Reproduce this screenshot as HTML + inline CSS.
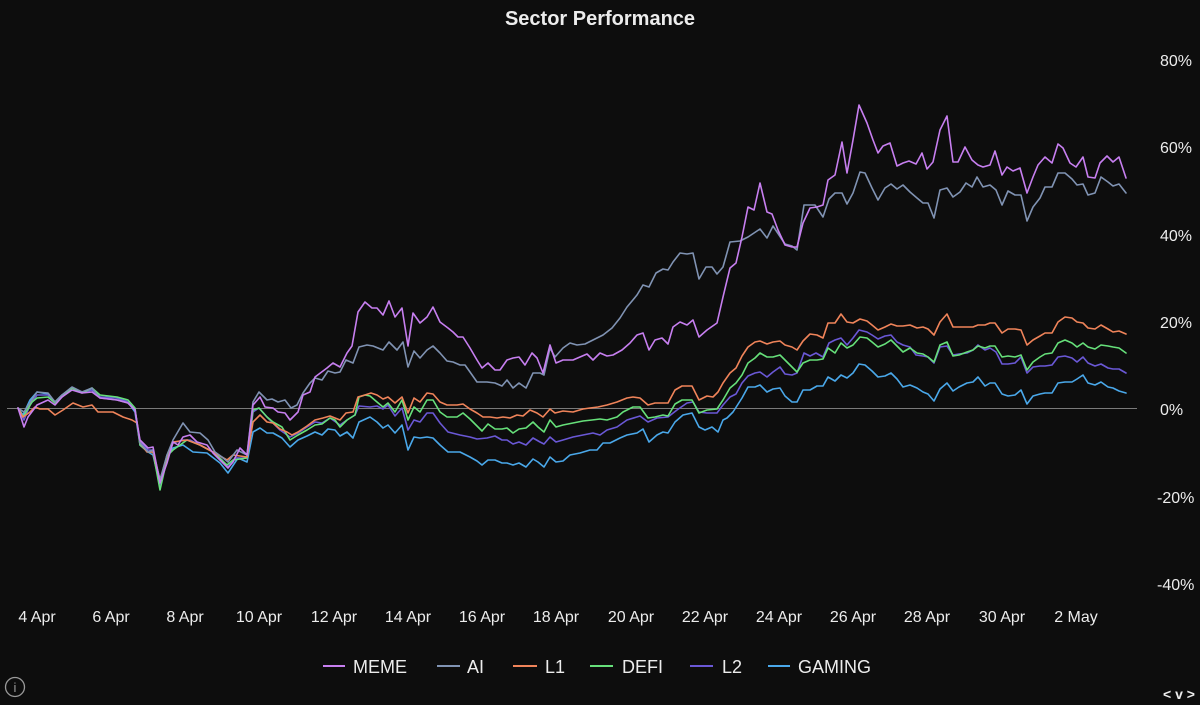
<!DOCTYPE html>
<html>
<head>
<meta charset="utf-8">
<style>
  html,body{margin:0;padding:0;background:#0d0d0d;}
  body{width:1200px;height:705px;overflow:hidden;}
  svg{display:block;}
  text{font-family:"Liberation Sans",sans-serif;fill:#ececec;}
</style>
</head>
<body>
<svg width="1200" height="705" viewBox="0 0 1200 705" xmlns="http://www.w3.org/2000/svg">
  <rect x="0" y="0" width="1200" height="705" fill="#0d0d0d"/>

  <!-- Title -->
  <text x="600" y="25" font-size="20" font-weight="bold" text-anchor="middle">Sector Performance</text>

  <!-- Y axis labels -->
  <g font-size="16">
    <text x="1160" y="66">80%</text>
    <text x="1160" y="153">60%</text>
    <text x="1160" y="241">40%</text>
    <text x="1160" y="328">20%</text>
    <text x="1160" y="415">0%</text>
    <text x="1157" y="503">-20%</text>
    <text x="1157" y="590">-40%</text>
  </g>

  <!-- zero line -->
  <line x1="7" y1="408.5" x2="1137" y2="408.5" stroke="#7a7a7a" stroke-width="1"/>

  <!-- X axis labels -->
  <g font-size="16" text-anchor="middle">
    <text x="37" y="622">4 Apr</text>
    <text x="111" y="622">6 Apr</text>
    <text x="185" y="622">8 Apr</text>
    <text x="259" y="622">10 Apr</text>
    <text x="334" y="622">12 Apr</text>
    <text x="408" y="622">14 Apr</text>
    <text x="482" y="622">16 Apr</text>
    <text x="556" y="622">18 Apr</text>
    <text x="631" y="622">20 Apr</text>
    <text x="705" y="622">22 Apr</text>
    <text x="779" y="622">24 Apr</text>
    <text x="853" y="622">26 Apr</text>
    <text x="927" y="622">28 Apr</text>
    <text x="1002" y="622">30 Apr</text>
    <text x="1076" y="622">2 May</text>
  </g>

  <!-- Series -->
  <g fill="none" stroke-width="1.6" stroke-linejoin="round" stroke-linecap="round">
    <!-- GAMING -->
    <polyline stroke="#4aa8ea" points="18,408 23,415 30,400 37,392 48,394 55,402 62,395 72,388 82,392 92,390 100,397 117,398 128,402 135,412 140,445 148,452 153,455 160,485 167,455 173,448 183,445 193,452 207,453 220,463 228,473 238,458 247,462 253,432 260,428 267,433 273,433 282,438 290,447 298,440 307,436 315,432 322,435 328,429 335,430 340,436 347,432 353,438 359,422 370,417 377,422 383,428 388,425 395,433 402,425 408,450 414,437 420,438 427,437 433,438 440,445 448,452 460,452 470,457 477,461 482,465 488,460 495,460 502,463 507,463 513,465 519,463 526,467 533,459 538,462 544,467 550,457 556,462 563,461 570,455 580,453 590,450 597,450 603,443 610,443 620,438 627,435 637,433 643,429 649,442 657,435 663,432 668,433 675,422 683,415 692,413 699,427 705,430 712,427 718,432 723,420 727,418 733,412 742,398 748,387 755,387 760,385 767,392 773,389 780,388 785,396 792,402 797,402 803,390 810,390 817,386 823,386 828,377 835,381 841,375 847,378 853,373 859,364 865,365 872,371 878,377 885,376 891,373 897,379 903,387 910,385 917,388 923,392 928,394 934,401 940,389 947,383 953,391 959,387 967,383 973,382 978,377 985,386 990,383 995,383 1002,394 1008,396 1015,395 1021,390 1027,404 1033,396 1040,394 1045,393 1052,393 1058,383 1065,382 1072,382 1077,379 1083,375 1088,383 1095,385 1101,382 1108,387 1113,388 1119,391 1126,393"/>
    <!-- L2 -->
    <polyline stroke="#6a58d6" points="18,408 24,420 30,405 37,395 48,395 55,403 62,396 72,388 82,392 92,390 100,397 117,398 128,402 135,410 140,442 148,450 153,450 160,485 167,458 173,443 183,440 190,440 200,445 213,452 222,460 228,467 235,458 247,458 253,412 259,408 267,417 273,423 280,430 290,437 298,433 307,427 315,422 322,423 330,418 340,425 347,420 355,415 359,406 370,407 377,406 383,409 388,405 395,416 402,408 408,430 414,420 420,422 427,413 433,413 440,423 448,432 460,435 470,437 477,439 487,438 495,436 502,440 507,440 513,444 519,442 526,445 533,438 540,442 544,444 550,437 556,442 563,440 573,437 583,435 593,433 600,435 607,430 617,427 627,420 640,416 648,422 657,418 668,417 677,410 687,403 693,402 699,412 707,413 717,413 723,405 730,397 736,394 742,383 748,376 755,373 760,372 767,377 773,372 780,367 785,374 792,375 797,373 804,353 810,356 816,353 823,357 829,343 835,340 841,338 847,345 853,338 859,330 867,332 872,335 878,339 885,336 891,335 897,342 903,345 910,347 916,355 923,356 928,357 934,363 940,347 947,346 953,355 959,354 967,353 973,350 978,345 985,350 990,348 996,352 1002,364 1008,364 1015,363 1021,357 1027,373 1033,367 1040,366 1045,366 1052,365 1058,357 1065,356 1072,358 1077,362 1083,357 1088,363 1095,366 1101,364 1108,368 1113,369 1119,369 1126,373"/>
    <!-- DEFI -->
    <polyline stroke="#66e07a" points="18,408 23,417 32,402 37,398 48,397 55,403 62,397 72,388 82,393 92,388 100,395 117,397 128,400 135,408 140,445 148,452 153,452 160,490 168,455 173,450 187,440 200,445 213,452 227,465 233,460 247,458 253,410 259,408 267,417 273,422 282,427 290,440 298,435 307,430 315,425 322,424 330,418 335,420 340,427 347,420 355,415 359,397 365,395 370,396 377,402 383,407 388,403 395,412 402,400 408,420 414,407 420,412 427,400 433,400 440,412 447,417 457,417 463,413 470,419 477,426 482,431 488,424 495,429 502,429 507,428 513,433 519,429 526,428 533,422 538,427 544,432 550,420 556,427 563,425 573,423 583,421 592,420 600,419 607,420 617,417 623,412 633,407 640,407 648,418 655,417 663,415 668,416 675,404 682,400 692,400 699,413 707,410 717,409 723,400 730,388 736,383 742,375 748,363 755,358 760,353 767,357 773,357 780,355 785,360 792,367 797,372 803,363 810,360 817,360 823,359 828,348 835,353 841,343 847,348 853,345 860,337 867,338 872,342 878,347 885,344 891,340 897,346 903,352 910,348 917,353 923,354 928,357 934,362 940,345 947,342 953,356 959,355 967,352 973,350 978,346 985,348 990,346 995,346 1002,357 1008,356 1015,357 1021,355 1027,370 1033,362 1040,357 1045,354 1052,353 1058,343 1065,340 1072,343 1077,347 1083,343 1088,347 1095,349 1101,345 1108,346 1113,347 1119,348 1126,353"/>
    <!-- L1 -->
    <polyline stroke="#f0845a" points="18,408 23,417 30,412 35,407 40,409 48,409 55,415 63,410 73,403 83,407 92,405 98,412 113,412 123,417 132,420 137,423 140,443 147,452 153,452 160,480 168,453 173,442 187,440 200,445 213,452 227,460 233,455 247,457 253,422 260,415 267,422 273,423 280,429 287,432 292,435 298,432 307,426 315,420 323,418 330,416 340,420 346,413 353,412 358,397 365,395 371,393 377,395 383,399 388,397 395,403 402,397 408,413 414,398 420,402 427,393 433,394 440,402 447,405 457,405 463,404 470,409 477,413 483,417 490,417 497,418 503,417 510,418 517,415 523,416 530,410 537,413 543,417 550,409 555,413 563,411 573,412 583,409 590,408 598,407 607,405 617,402 627,398 633,397 640,398 648,405 655,403 663,403 668,403 675,390 682,386 692,386 699,400 707,396 713,397 718,392 723,383 730,373 736,368 742,356 748,347 755,342 760,341 767,344 773,342 780,341 785,345 792,347 797,350 803,341 810,334 817,335 823,338 828,323 835,323 841,314 847,322 853,323 860,319 867,321 872,325 878,330 885,327 891,324 897,326 903,326 910,325 917,328 923,327 928,329 934,335 940,322 947,314 953,327 959,327 967,327 973,327 978,325 985,325 990,323 995,323 1002,333 1008,329 1015,329 1021,330 1027,345 1033,340 1040,336 1045,333 1052,333 1058,322 1065,317 1072,318 1077,322 1083,323 1088,328 1095,329 1101,325 1108,329 1113,332 1119,331 1126,334"/>
    <!-- AI -->
    <polyline stroke="#8093b3" points="18,408 24,412 37,392 48,393 55,402 62,395 72,387 82,392 92,388 100,398 117,400 128,403 135,410 140,443 148,452 153,450 160,480 167,455 173,440 183,423 190,432 200,433 208,440 215,452 222,457 228,462 237,450 247,455 253,402 259,392 267,400 272,399 278,402 285,400 291,408 297,405 303,393 310,383 315,378 322,380 328,371 335,373 340,372 346,360 353,363 359,347 367,345 373,346 383,350 389,342 397,350 403,342 408,367 414,351 420,358 427,350 433,346 440,353 447,361 453,362 460,365 465,365 470,372 477,382 487,382 495,383 502,386 507,380 513,388 519,383 526,388 533,373 540,373 544,375 550,348 555,357 563,348 570,343 577,345 585,344 593,340 603,335 612,328 620,318 627,307 637,295 643,285 649,287 656,273 663,269 668,270 673,262 680,253 687,254 693,253 699,279 706,267 712,267 717,274 723,267 730,242 740,241 748,237 760,229 767,238 773,226 785,244 792,246 797,250 804,205 815,205 823,217 829,199 835,193 842,193 847,204 853,193 860,172 865,173 872,188 878,200 885,188 891,184 897,189 903,185 910,192 917,198 923,203 928,203 934,218 940,190 947,188 953,197 960,192 966,183 972,187 977,177 983,187 990,185 996,190 1002,205 1008,191 1015,195 1021,195 1027,221 1033,207 1040,198 1045,187 1052,187 1058,173 1065,173 1072,179 1077,185 1083,184 1088,195 1095,193 1101,177 1108,182 1113,186 1119,184 1126,193"/>
    <!-- MEME -->
    <polyline stroke="#c77ff0" points="18,408 24,427 28,417 37,405 48,400 55,405 62,397 72,390 82,393 92,392 100,398 117,400 128,403 135,410 140,440 148,448 153,447 160,483 167,463 173,442 178,445 183,437 190,435 197,442 207,445 213,453 220,460 228,468 233,462 240,448 247,455 253,405 260,397 265,407 273,408 278,412 285,413 290,420 298,412 303,395 310,392 315,377 327,368 333,363 340,367 347,353 352,346 358,312 365,302 372,308 377,308 383,315 389,301 395,317 402,308 408,346 413,313 420,323 427,317 433,307 440,322 448,328 453,332 458,337 463,337 470,348 477,360 482,368 488,363 495,370 500,370 507,360 513,358 519,357 525,365 532,353 537,358 543,373 550,345 556,363 563,360 573,360 580,357 587,354 593,360 600,353 607,356 613,355 622,350 630,343 637,335 643,333 649,350 655,340 662,338 668,344 673,327 680,322 687,325 693,320 699,337 707,330 717,323 723,297 730,268 736,263 742,237 748,207 754,210 760,183 767,212 772,214 778,230 785,245 792,247 797,247 803,223 810,208 817,207 823,205 828,180 835,175 842,142 847,173 853,140 859,105 867,123 873,140 878,153 883,146 890,143 897,166 903,163 909,161 916,164 922,153 927,169 933,162 940,130 947,116 953,162 958,162 965,147 972,160 978,165 983,167 990,165 995,151 1002,175 1007,167 1013,171 1020,168 1027,193 1033,177 1038,165 1045,157 1052,163 1058,144 1063,148 1070,163 1076,167 1083,157 1088,177 1095,178 1100,163 1107,156 1113,162 1119,157 1126,178"/>
  </g>

  <!-- Legend -->
  <g stroke-width="2">
    <line x1="323" y1="666" x2="345" y2="666" stroke="#c77ff0"/>
    <line x1="437" y1="666" x2="460" y2="666" stroke="#8093b3"/>
    <line x1="513" y1="666" x2="537" y2="666" stroke="#f0845a"/>
    <line x1="590" y1="666" x2="613" y2="666" stroke="#66e07a"/>
    <line x1="690" y1="666" x2="713" y2="666" stroke="#6a58d6"/>
    <line x1="768" y1="666" x2="790" y2="666" stroke="#4aa8ea"/>
  </g>
  <g font-size="18">
    <text x="353" y="673">MEME</text>
    <text x="467" y="673">AI</text>
    <text x="545" y="673">L1</text>
    <text x="622" y="673">DEFI</text>
    <text x="722" y="673">L2</text>
    <text x="798" y="673">GAMING</text>
  </g>

  <!-- info icon -->
  <circle cx="15" cy="687" r="9.5" fill="none" stroke="#9a9a9a" stroke-width="1.3"/>
  <text x="15" y="692" font-size="13" text-anchor="middle" style="fill:#9a9a9a">i</text>

  <!-- nav -->
  <text x="1179" y="699" font-size="14" font-weight="bold" text-anchor="middle">&lt; v &gt;</text>
</svg>
</body>
</html>
